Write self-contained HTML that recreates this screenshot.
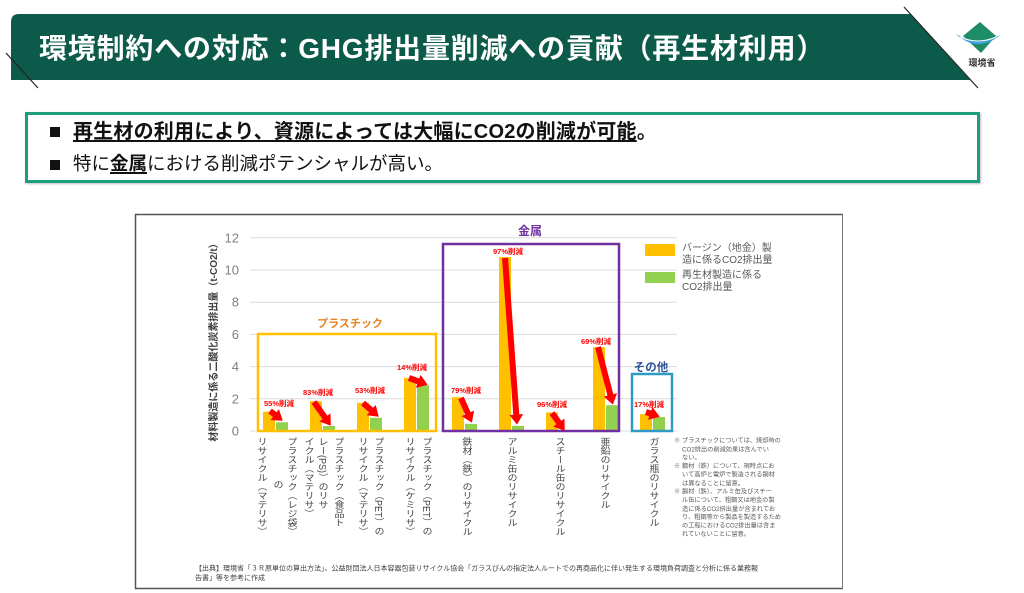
<!DOCTYPE html>
<html><head><meta charset="utf-8">
<style>
html,body{margin:0;padding:0;}
body{width:1024px;height:593px;overflow:hidden;background:#fff;position:relative;font-family:"Liberation Sans","Noto Sans CJK JP",sans-serif;}
.abs{position:absolute;}
.v{position:absolute;writing-mode:vertical-rl;font-size:10px;line-height:12px;width:12px;color:#444;white-space:nowrap;top:437px;transform:scaleY(0.9);transform-origin:0 0;}
.notes{position:absolute;left:674px;top:437px;font-size:10px;line-height:13.7px;color:#595959;transform:scale(0.62);transform-origin:0 0;padding-left:13px;white-space:nowrap;}
.notes .k{position:absolute;left:0;}
.src{position:absolute;left:195px;top:564px;font-size:10px;line-height:14.3px;color:#404040;transform:scale(0.7);transform-origin:0 0;white-space:nowrap;}
</style></head><body>

<svg class="abs" style="left:0;top:0" width="1024" height="593" viewBox="0 0 1024 593">
  <defs>
    <marker id="ah" viewBox="0 0 10 10" refX="0.5" refY="5" markerWidth="1.7" markerHeight="2.3" orient="auto" markerUnits="strokeWidth" preserveAspectRatio="none">
      <path d="M0,0 L10,5 L0,10 z" fill="#ff0000"/>
    </marker>
  </defs>

  <!-- header banner -->
  <path d="M11,22 Q11,14 19,14 L910,14 L970,80 L11,80 Z" fill="#0c5a4a"/>
  <line x1="904" y1="7" x2="978" y2="88" stroke="#222" stroke-width="1.2"/>
  <line x1="6" y1="53" x2="38" y2="88" stroke="#222" stroke-width="1.2"/>

  <!-- logo -->
  <path d="M980,22 L996,36 L981,53 L963,36 Z" fill="#1e8c64"/>
  <path d="M956,34 Q978,54 1000,35 Q978,47 956,34 Z" fill="#3aa0d8"/>
  <path d="M960,37 Q978,45 996,37" stroke="#fff" stroke-width="1" fill="none"/>
  <text x="982" y="66" font-size="9" font-weight="bold" fill="#333" text-anchor="middle">環境省</text>

  <!-- chart frame -->
  <line x1="135" y1="214.5" x2="843" y2="214.5" stroke="#555" stroke-width="1.5"/>
  <line x1="135" y1="588.5" x2="843" y2="588.5" stroke="#555" stroke-width="1.5"/>
  <line x1="135.5" y1="214" x2="135.5" y2="589" stroke="#555" stroke-width="1.5"/>
  <line x1="842.5" y1="214" x2="842.5" y2="589" stroke="#777" stroke-width="1"/>

  <!-- gridlines -->
  <g stroke="#dcdcdc" stroke-width="1">
    <line x1="250" y1="237.8" x2="677" y2="237.8"/>
    <line x1="250" y1="270" x2="677" y2="270"/>
    <line x1="250" y1="302.2" x2="677" y2="302.2"/>
    <line x1="250" y1="334.4" x2="677" y2="334.4"/>
    <line x1="250" y1="366.6" x2="677" y2="366.6"/>
    <line x1="250" y1="398.8" x2="677" y2="398.8"/>
    <line x1="250" y1="431" x2="677" y2="431"/>
  </g>

  <!-- tick labels -->
  <g font-size="13" fill="#7f7f7f" text-anchor="end">
    <text x="239" y="242.5">12</text>
    <text x="239" y="274.5">10</text>
    <text x="239" y="306.7">8</text>
    <text x="239" y="338.9">6</text>
    <text x="239" y="371.1">4</text>
    <text x="239" y="403.3">2</text>
    <text x="239" y="435.5">0</text>
  </g>

  <!-- y-axis title -->
  <text transform="translate(217,340) rotate(-90)" font-size="10" font-weight="bold" fill="#404040" text-anchor="middle">材料製造に係る二酸化炭素排出量（t-CO2/t）</text>

  <!-- bars -->
  <g fill="#ffc000">
    <rect x="263" y="411.7" width="12" height="19.3"/>
    <rect x="310" y="401.2" width="12" height="29.8"/>
    <rect x="357" y="402.8" width="12" height="28.2"/>
    <rect x="404" y="377.9" width="12" height="53.1"/>
    <rect x="452" y="397.2" width="12" height="33.8"/>
    <rect x="499" y="257.1" width="12" height="173.9"/>
    <rect x="546" y="412.5" width="12" height="18.5"/>
    <rect x="593" y="347.3" width="12" height="83.7"/>
    <rect x="640" y="414.1" width="12" height="16.9"/>
  </g>
  <g fill="#92d050">
    <rect x="276" y="422.3" width="12" height="8.7"/>
    <rect x="323" y="426" width="12" height="5"/>
    <rect x="370" y="417.8" width="12" height="13.2"/>
    <rect x="417" y="385.3" width="12" height="45.7"/>
    <rect x="465" y="423.9" width="12" height="7.1"/>
    <rect x="512" y="425.8" width="12" height="5.2"/>
    <rect x="559" y="430.2" width="12" height="0.8"/>
    <rect x="606" y="405.2" width="12" height="25.8"/>
    <rect x="653" y="417" width="12" height="14"/>
  </g>

  <!-- group boxes -->
  <rect x="258" y="334" width="178" height="97" fill="none" stroke="#ffc000" stroke-width="2.5"/>
  <rect x="443" y="244" width="176" height="187" fill="none" stroke="#7030a0" stroke-width="2.5"/>
  <rect x="632" y="374" width="40" height="57" fill="none" stroke="#2f9bc4" stroke-width="2.5"/>
  <text x="350" y="327" font-size="11" font-weight="bold" fill="#e9811f" text-anchor="middle">プラスチック</text>
  <text x="530" y="235" font-size="12" font-weight="bold" fill="#7030a0" text-anchor="middle">金属</text>
  <text x="651" y="371" font-size="11.5" font-weight="bold" fill="#2f5597" text-anchor="middle">その他</text>

  <!-- arrows -->
  <g stroke="#ff0000" stroke-width="6" marker-end="url(#ah)">
    <line x1="270" y1="411" x2="275.1" y2="414.9"/>
    <line x1="314" y1="402" x2="325.2" y2="417.8"/>
    <line x1="363" y1="403" x2="371.5" y2="410.4"/>
    <line x1="409" y1="378" x2="418.6" y2="381.5"/>
    <line x1="461" y1="398" x2="468" y2="413.8"/>
    <line x1="505" y1="258" x2="516.3" y2="415"/>
    <line x1="552" y1="413" x2="559.1" y2="422.9"/>
    <line x1="598" y1="347" x2="610.5" y2="395.3"/>
    <line x1="646" y1="412" x2="650.6" y2="413.6"/>
  </g>

  <!-- reduction labels -->
  <g font-size="7.5" font-weight="bold" fill="#ff0000" text-anchor="middle">
    <text x="279" y="406">55%削減</text>
    <text x="318" y="395">83%削減</text>
    <text x="370" y="393">53%削減</text>
    <text x="412" y="370">14%削減</text>
    <text x="466" y="393">79%削減</text>
    <text x="508" y="254">97%削減</text>
    <text x="552" y="407">96%削減</text>
    <text x="596" y="344">69%削減</text>
    <text x="649" y="407">17%削減</text>
  </g>

  <!-- legend -->
  <rect x="645" y="244" width="30" height="12" fill="#ffc000"/>
  <rect x="645" y="272" width="30" height="11" fill="#92d050"/>
  <g font-size="10" fill="#595959">
    <text x="682" y="251">バージン（地金）製</text>
    <text x="682" y="263">造に係るCO2排出量</text>
    <text x="682" y="278">再生材製造に係る</text>
    <text x="682" y="290">CO2排出量</text>
  </g>
</svg>

<!-- title -->
<div class="abs" style="left:39px;top:29px;font-size:28px;font-weight:bold;color:#fff;line-height:40px;letter-spacing:0.8px;white-space:nowrap;">環境制約への対応：GHG排出量削減への貢献（再生材利用）</div>

<!-- summary box -->
<div class="abs" style="left:25px;top:112px;width:949px;height:65px;border:3px solid #1e9c80;box-shadow:1px 1px 2px rgba(0,0,0,0.25);"></div>
<div class="abs" style="left:50px;top:127px;width:10px;height:10px;background:#111;"></div>
<div class="abs" style="left:50px;top:160px;width:10px;height:10px;background:#111;"></div>
<div class="abs" style="left:73px;top:120px;font-size:20px;line-height:24px;font-weight:bold;color:#111;white-space:nowrap;letter-spacing:0.2px;"><span style="text-decoration:underline;text-underline-offset:2px;text-decoration-thickness:1.5px;">再生材の利用により、資源によっては大幅にCO2の削減が可能</span>。</div>
<div class="abs" style="left:73px;top:152px;font-size:18.5px;line-height:24px;color:#111;white-space:nowrap;">特に<span style="font-weight:bold;text-decoration:underline;text-underline-offset:2px;text-decoration-thickness:1.5px;">金属</span>における削減ポテンシャルが高い。</div>

<!-- x-axis labels -->
<div class="v" style="left:284px;">プラスチック（レジ袋）</div>
<div class="v" style="left:270px;top:480px;">の</div>
<div class="v" style="left:254px;">リサイクル（マテリサ）</div>

<div class="v" style="left:331px;">プラスチック（食品ト</div>
<div class="v" style="left:315px;">レー(PS)）のリサ</div>
<div class="v" style="left:301px;">イクル（マテリサ）</div>

<div class="v" style="left:371px;">プラスチック（PET）の</div>
<div class="v" style="left:355px;">リサイクル（マテリサ）</div>

<div class="v" style="left:419px;">プラスチック（PET）の</div>
<div class="v" style="left:402px;">リサイクル（ケミリサ）</div>

<div class="v" style="left:459px;">鉄材（鉄）のリサイクル</div>
<div class="v" style="left:504px;">アルミ缶のリサイクル</div>
<div class="v" style="left:552px;">スチール缶のリサイクル</div>
<div class="v" style="left:597px;">亜鉛のリサイクル</div>
<div class="v" style="left:646px;">ガラス瓶のリサイクル</div>

<!-- notes -->
<div class="notes"><span class="k">※</span>プラスチックについては、焼却時の<br>CO2排出の削減効果は含んでい<br>ない。<br><span class="k">※</span>鋼材（鉄）について、現時点にお<br>いて高炉と電炉で製造される鋼材<br>は異なることに留意。<br><span class="k">※</span>鋼材（鉄）、アルミ缶及びスチー<br>ル缶について、粗鋼又は地金の製<br>造に係るCO2排出量が含まれてお<br>り、粗鋼等から製品を製造するため<br>の工程におけるCO2排出量は含ま<br>れていないことに留意。</div>

<!-- source -->
<div class="src">【出典】環境省「３Ｒ原単位の算出方法」、公益財団法人日本容器包装リサイクル協会「ガラスびんの指定法人ルートでの再商品化に伴い発生する環境負荷調査と分析に係る業務報<br>告書」等を参考に作成</div>

</body></html>
